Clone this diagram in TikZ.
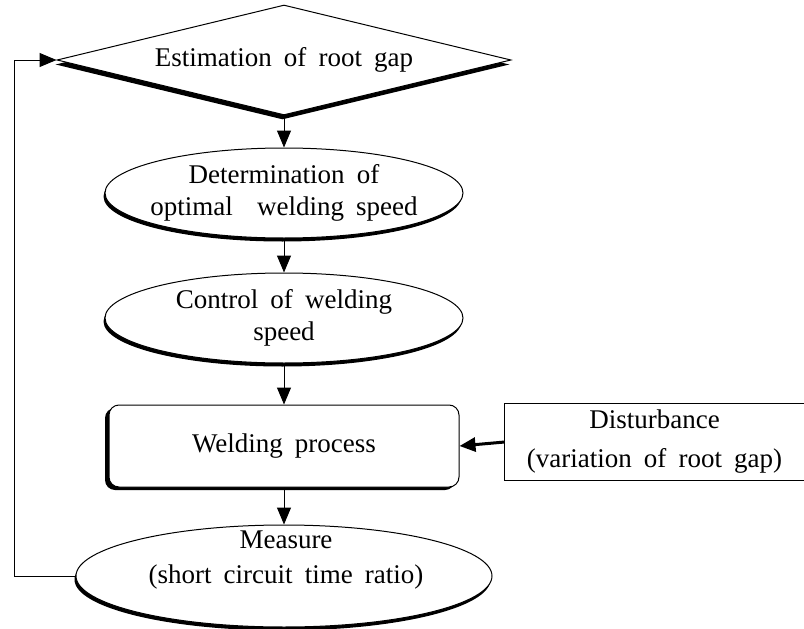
\documentclass[tikz,border=0pt]{standalone}
\usepackage{fontspec}
\setmainfont{Liberation Serif}
\usetikzlibrary{shapes.geometric,shadows,arrows.meta}

\newcommand{\widesp}{\fontsize{27}{32}\selectfont\spaceskip=0.45em plus 0.1em\relax}

\begin{document}
\begin{tikzpicture}[x=1pt,y=-1pt,
    txt/.style={font=\widesp, align=center, inner sep=0pt},
    box/.style={txt, fill=white, draw, line width=1pt},
    diam/.style={box, diamond, shape aspect=4.1, minimum width=454pt, minimum height=110pt,
        general shadow={fill=black, shadow xshift=-1.5pt, shadow yshift=-4.5pt}},
    oval/.style={box, ellipse, inner xsep=-10pt, minimum width=358pt, minimum height=90pt,
        general shadow={fill=black, shadow xshift=-1.5pt, shadow yshift=-3.5pt}},
    proc/.style={box, rounded corners=10pt, minimum width=350pt, minimum height=82pt,
        general shadow={fill=black, rounded corners=10pt, shadow xshift=-4pt, shadow yshift=-3pt}},
    flow/.style={line width=1pt, -{Triangle[length=17pt,width=14pt]}}]

    % 表示範囲
    \useasboundingbox (0,0) rectangle (804,629);

    % パラメータの定義
    \pgfmathsetmacro{\X}{284}

    % 点の定義
    \coordinate (E) at (\X,60);
    \coordinate (D) at (\X,193);
    \coordinate (C) at (\X,318);
    \coordinate (W) at (\X,446);
    \coordinate (S) at (654.5,442);
    \coordinate (M) at (\X,576);
    \coordinate (F) at (14,0);

    % 枠の描画
    \node [diam] (est) at (E) {Estimation of root gap};
    \node [oval] (det) at (D) {Determination of\\optimal \ welding speed};
    \node [oval] (ctrl) at (C) {Control of welding\\speed};
    \node [proc] (weld) at (W) {Welding process};
    \node [oval, minimum width=416pt, minimum height=102pt] (meas) at (M) {};
    \node [txt] (meastext) at (\X+2,560) {Measure\\[3pt](short circuit time ratio)};

    % 外乱の枠 (右端は切れている)
    \node [txt, minimum width=299pt, minimum height=76pt] (dist) at (S) {Disturbance\\[7pt](variation of root gap)};
    \draw [line width=0.8pt] (dist.north east) -- (dist.north west) -- (dist.south west) -- (dist.south east);

    % 矢印の描画
    \draw [flow] (est.south) -- (det.north);
    \draw [flow] (det.south) -- (ctrl.north);
    \draw [flow] (ctrl.south) -- (weld.north);
    \draw [flow] (weld.south) -- (meas.north);
    \draw [line width=3pt, -{Triangle[length=16pt,width=14pt]}] (dist.west) -- (weld.east);

    % フィードバック
    \draw [flow] (meas.west) -- (meas.west -| F) |- (est.west);

\end{tikzpicture}
\end{document}
